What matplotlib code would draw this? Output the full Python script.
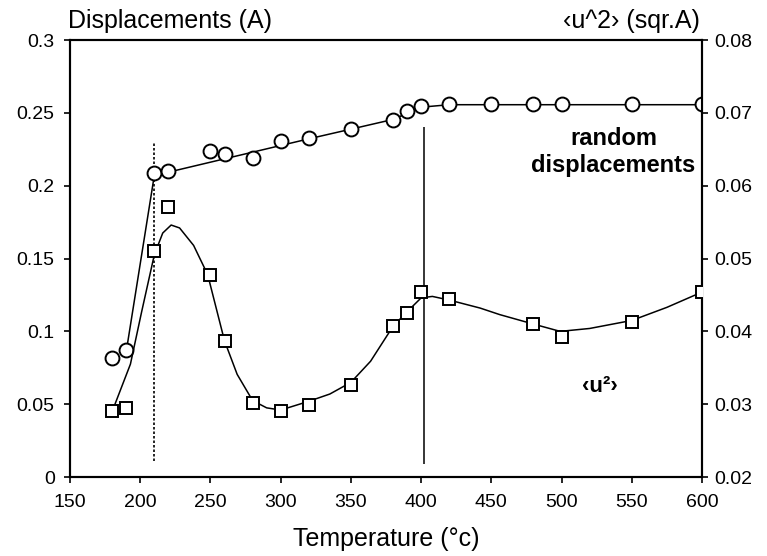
import matplotlib
matplotlib.use("Agg")
import matplotlib.pyplot as plt
from matplotlib.ticker import FuncFormatter

# random displacements (left axis, A)
disp_temp = [180, 190, 210, 220, 250, 260, 280, 300, 320, 350, 380, 390,
             400, 420, 450, 480, 500, 550, 600]
disp_val = [0.082, 0.087, 0.209, 0.210, 0.224, 0.222, 0.219, 0.231, 0.233,
            0.239, 0.245, 0.251, 0.255, 0.256, 0.256, 0.256, 0.256, 0.256, 0.256]

# drawn line through the displacement points
disp_line_temp = [190, 210, 321, 349, 380, 392, 400, 420, 600]
disp_line_val = [0.086, 0.207, 0.2324, 0.2386, 0.2455, 0.2505, 0.2539, 0.2556, 0.2556]

# <u^2> (right axis, sqr.A)
u2_temp = [180, 190, 210, 220, 250, 260, 280, 300, 320, 350, 380, 390,
           400, 420, 480, 500, 550, 600]
u2_val = [0.0290, 0.0295, 0.0511, 0.0571, 0.0478, 0.0387, 0.0301, 0.0291,
          0.0299, 0.0326, 0.0408, 0.0425, 0.0454, 0.0444, 0.0410, 0.0392,
          0.0413, 0.0454]

# smooth fit curve
u2_fit_temp = [180, 186, 193, 201, 210, 216, 222, 228, 238, 248, 260, 269,
               280, 290, 300, 320, 335, 350, 364, 380, 390, 400, 408, 420,
               442, 456, 480, 499, 520, 550, 575, 600]
u2_fit_val = [0.0290, 0.0320, 0.0355, 0.0427, 0.0505, 0.0535, 0.0546, 0.0542,
              0.0518, 0.0478, 0.0387, 0.0341, 0.0305, 0.0295, 0.0292, 0.0304,
              0.0314, 0.0330, 0.0359, 0.0407, 0.0427, 0.0446, 0.0448, 0.0443,
              0.0432, 0.0423, 0.0410, 0.0400, 0.0404, 0.0415, 0.0433, 0.0454]

# transition markers: (temperature, y from, y to) on left axis
dotted_line = (210, 0.011, 0.229)
solid_line = (402, 0.009, 0.240)

x_ticks = [150, 200, 250, 300, 350, 400, 450, 500, 550, 600]
left_ticks = [0, 0.05, 0.1, 0.15, 0.2, 0.25, 0.3]
right_ticks = [0.02, 0.03, 0.04, 0.05, 0.06, 0.07, 0.08]

plt.rcParams["font.family"] = ["Liberation Sans", "DejaVu Sans"]

fig = plt.figure(figsize=(7.67, 5.56), dpi=100)
ax = fig.add_axes([0.0913, 0.142, 0.824, 0.786])
ax2 = ax.twinx()

ax.plot(disp_line_temp, disp_line_val, "k-", lw=1.1, zorder=2)
ax.plot(disp_temp, disp_val, "o", ms=10, mfc="white", mec="black", mew=1.4, zorder=3)
ax.vlines(dotted_line[0], dotted_line[1], dotted_line[2], colors="black",
          linestyles=(0, (1.5, 1.2)), lw=1.2)
ax.vlines(solid_line[0], solid_line[1], solid_line[2], colors="black", lw=1.1)

ax2.plot(u2_fit_temp, u2_fit_val, "k-", lw=1.1, zorder=2)
ax2.plot(u2_temp, u2_val, "s", ms=9, mfc="white", mec="black", mew=1.4, zorder=3)

ax.set_xlim(150, 600)
ax.set_ylim(0, 0.3)
ax2.set_ylim(0.02, 0.08)
ax.set_xticks(x_ticks)
ax.set_yticks(left_ticks)
ax2.set_yticks(right_ticks)

fmt = FuncFormatter(lambda v, p: ("%g" % round(v, 3)))
ax.yaxis.set_major_formatter(fmt)
ax2.yaxis.set_major_formatter(FuncFormatter(lambda v, p: "%.2f" % v))

for a in (ax, ax2):
    a.tick_params(labelsize=14, length=4, width=1.2, direction="out", pad=5)
    for s in a.spines.values():
        s.set_linewidth(1.5)
ax.tick_params(axis="y", pad=7)
ax.tick_params(axis="x", pad=8)

ax.set_xlabel("Temperature (\u00b0c)", fontsize=18, labelpad=12)
fig.text(0.089, 0.9496, "Displacements (A)", fontsize=18, ha="left", va="baseline")
fig.text(0.913, 0.9496, "\u2039u^2\u203a (sqr.A)", fontsize=18, ha="right", va="baseline")

ax2.text(537, 0.0646, "random\ndisplacements", fontsize=17, fontweight="bold",
         ha="center", va="center", linespacing=1.2)
ax2.text(527, 0.0325, "\u2039u\u00b2\u203a", fontsize=16, fontweight="bold",
         ha="center", va="center")

fig.savefig("out.png", dpi=100)
